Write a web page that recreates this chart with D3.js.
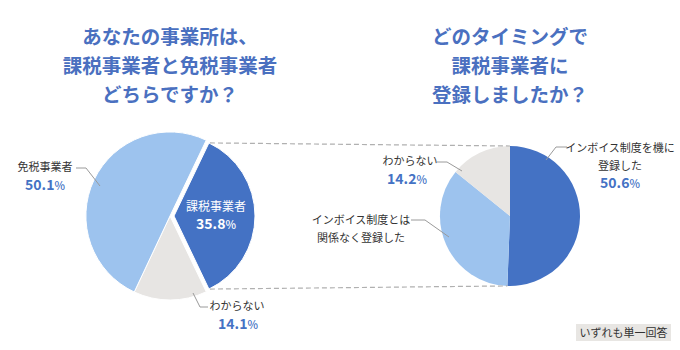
<!DOCTYPE html>
<html><head><meta charset="utf-8">
<script src="https://cdn.jsdelivr.net/npm/d3@7"></script>
<style>
html,body{margin:0;padding:0;background:#fff;}
svg{display:block;font-family:"Noto Sans CJK JP","Noto Sans",sans-serif;}
</style></head>
<body><svg id="chart" width="680" height="350"></svg>
<script>
// ---- data ----
const leftTitle = ["あなたの事業所は、", "課税事業者と免税事業者", "どちらですか？"];
const rightTitle = ["どのタイミングで", "課税事業者に", "登録しましたか？"];
const leftCategories = ["課税事業者", "わからない", "免税事業者"];
const leftValues = [35.8, 14.1, 50.1];
const rightCategories = ["インボイス制度を機に登録した", "インボイス制度とは関係なく登録した", "わからない"];
const rightValues = [50.6, 35.2, 14.2];
const noteText = "いずれも単一回答";

// ---- styles ----
const C_DARK = "#4472C4", C_LIGHT = "#9DC3EE", C_GRAY = "#E7E5E3";
const leftColors = [C_DARK, C_GRAY, C_LIGHT];
const rightColors = [C_DARK, C_LIGHT, C_GRAY];
const TITLE = "#4A70C0", TXT = "#333", LEAD = "#9a9a9a";

const svg = d3.select("#chart");

// titles
function title(lines, cx) {
  const t = svg.append("text").attr("text-anchor", "middle")
    .attr("font-size", 19.5).attr("font-weight", 700).attr("fill", TITLE);
  lines.forEach((l, i) => t.append("tspan").attr("x", cx).attr("y", 44 + i * 29).text(l));
}
title(leftTitle, 170);
title(rightTitle, 510);

// left pie
const L = {cx: 170, cy: 216, r: 84};
const leftSpan = leftValues[0] / d3.sum(leftValues) * 2 * Math.PI;
const leftStart = Math.PI / 2 - leftSpan / 2;
const leftPie = d3.pie().sort(null).startAngle(leftStart).endAngle(leftStart + 2 * Math.PI);
const leftArcs = leftPie(leftValues);
const gL = svg.append("g").attr("transform", `translate(${L.cx},${L.cy})`);
const explode = 4, darkR = 81;
gL.selectAll("path").data(leftArcs).join("path")
  .attr("d", (d, i) => d3.arc().innerRadius(0).outerRadius(i === 0 ? darkR : L.r)(d))
  .attr("fill", (d, i) => leftColors[i])
  .attr("stroke", "#fff").attr("stroke-width", 1)
  .attr("transform", (d, i) => {
    if (i !== 0) return null;
    const a = (d.startAngle + d.endAngle) / 2;
    return `translate(${explode * Math.sin(a)},${-explode * Math.cos(a)})`;
  });

// right pie
const R = {cx: 510, cy: 216, r: 70};
const rightPie = d3.pie().sort(null).startAngle(0).endAngle(2 * Math.PI);
const rightArcs = rightPie(rightValues);
const gR = svg.append("g").attr("transform", `translate(${R.cx},${R.cy})`);
gR.selectAll("path").data(rightArcs).join("path")
  .attr("d", d3.arc().innerRadius(0).outerRadius(R.r))
  .attr("fill", (d, i) => rightColors[i]);

// connecting dashed lines
const dA = leftArcs[0];
const midA = (dA.startAngle + dA.endAngle) / 2;
const ex = L.cx + explode * Math.sin(midA), ey = L.cy - explode * Math.cos(midA);
const p1 = [ex + darkR * Math.sin(dA.startAngle), ey - darkR * Math.cos(dA.startAngle)];
const p2 = [ex + darkR * Math.sin(dA.endAngle), ey - darkR * Math.cos(dA.endAngle)];
const rA = rightArcs[0];
const q1 = [R.cx + R.r * Math.sin(rA.startAngle), R.cy - R.r * Math.cos(rA.startAngle)];
const q2 = [R.cx + R.r * Math.sin(rA.endAngle), R.cy - R.r * Math.cos(rA.endAngle)];
[[p1, q1], [p2, q2]].forEach(([a, b]) => {
  svg.append("line").attr("x1", a[0] + 1).attr("y1", a[1]).attr("x2", b[0]).attr("y2", b[1])
    .attr("stroke", "#b0b0b0").attr("stroke-width", 1.2).attr("stroke-dasharray", "5,3");
});

// helpers
function leader(pts) {
  svg.append("polyline").attr("points", pts.map(p => p.join(",")).join(" "))
    .attr("fill", "none").attr("stroke", LEAD).attr("stroke-width", 1);
}
function label(lines, x, y, pct, color, lh) {
  const t = svg.append("text").attr("text-anchor", "middle").attr("fill", color || TXT)
    .attr("font-size", 11);
  lines.forEach((l, i) => t.append("tspan").attr("x", x).attr("y", y + i * (lh || 17)).text(l));
  return t;
}
function pctText(v, x, y, color, size) {
  const t = svg.append("text").attr("text-anchor", "middle").attr("x", x).attr("y", y)
    .attr("fill", color).attr("font-weight", 700).attr("font-size", size || 14);
  t.append("tspan").text(d3.format(".1f")(v));
  t.append("tspan").attr("font-size", (size || 14) * 0.8).attr("font-weight", 500).text("%");
}

// left labels
label([leftCategories[2]], 45, 171);
pctText(leftValues[2], 45, 190, C_DARK);
leader([[76, 168], [86, 168], [100, 186]]);

svg.append("text").attr("text-anchor", "middle").attr("x", 216).attr("y", 210.5)
  .attr("fill", "#fff").attr("font-size", 12).text(leftCategories[0]);
pctText(leftValues[0], 216, 229, "#fff", 14);

label([leftCategories[1]], 237, 310);
pctText(leftValues[1], 238, 328.5, C_DARK);
leader([[193, 293], [200, 307], [208, 307]]);

// right labels
label(["インボイス制度を機に", "登録した"], 620, 152, null, TXT, 18);
pctText(rightValues[0], 620, 187.5, C_DARK);
leader([[546, 160], [556, 147], [567, 147]]);

label([rightCategories[2]], 410, 165);
pctText(rightValues[2], 407, 183.5, C_DARK);
leader([[437, 162], [447, 162], [462, 171]]);

label(["インボイス制度とは", "関係なく登録した"], 361, 224, null, TXT, 18);
leader([[411, 220], [425, 220], [449, 237]]);

// note box
svg.append("rect").attr("x", 576).attr("y", 324).attr("width", 95).attr("height", 17).attr("fill", "#E8E6E3");
svg.append("text").attr("x", 623.5).attr("y", 336.5).attr("text-anchor", "middle")
  .attr("font-size", 11).attr("fill", TXT).text(noteText);
</script></body></html>
